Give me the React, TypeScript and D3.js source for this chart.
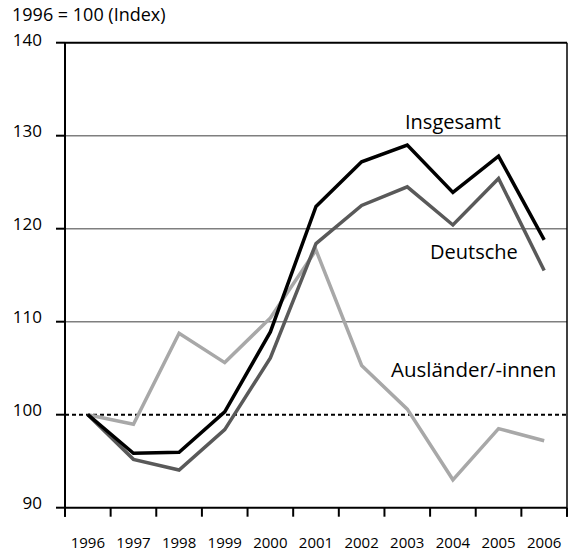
import React from "react";
import * as d3 from "d3";

const years = ["1996", "1997", "1998", "1999", "2000", "2001", "2002", "2003", "2004", "2005", "2006"];
const insgesamt = [100, 95.85, 95.95, 100.3, 108.9, 122.4, 127.2, 129.0, 123.9, 127.8, 118.8];
const deutsche = [100, 95.2, 94.05, 98.4, 106.1, 118.4, 122.5, 124.5, 120.4, 125.4, 115.5];
const auslaender = [100, 98.97, 108.75, 105.6, 110.4, 117.7, 105.3, 100.6, 93.0, 98.5, 97.2];
const yTicks = [90, 100, 110, 120, 130, 140];
const gridValues = [110, 120, 130];

const W = 572;
const H = 556;
const FONT = "'Open Sans', 'DejaVu Sans', sans-serif";

const App = () => {
  const x = d3.scaleBand().domain(years).range([65, 567]);
  const y = d3.scaleLinear().domain([90, 140]).range([507.7, 42.7]);
  const [x0, x1] = x.range();

  const line = d3
    .line<number>()
    .x((_, i) => x(years[i])! + x.bandwidth() / 2)
    .y((d) => y(d));

  const series = [
    { values: auslaender, color: "#a8a8a8" },
    { values: deutsche, color: "#595959" },
    { values: insgesamt, color: "#000" },
  ];

  const tickXs = years.map((yr) => x(yr)!).concat([x1]);

  return (
    <div style={{ position: "absolute", left: 0, top: 0 }}>
      <svg width={W} height={H} style={{ display: "block", background: "#fff" }} fontFamily={FONT}>
        {/* gridlines */}
        {gridValues.map((v) => (
          <line key={v} x1={x0} x2={x1} y1={y(v)} y2={y(v)} stroke="#7f7f7f" strokeWidth={1.4} />
        ))}
        <line x1={x0} x2={x1} y1={y(100)} y2={y(100)} stroke="#000" strokeWidth={2} strokeDasharray="4,3" />

        {/* frame */}
        <line x1={x0} x2={x1} y1={y(140)} y2={y(140)} stroke="#000" strokeWidth={2} />
        <line x1={x0} x2={x1} y1={y(90)} y2={y(90)} stroke="#000" strokeWidth={2} />
        <line x1={x0} x2={x0} y1={y(140)} y2={y(90) + 9} stroke="#000" strokeWidth={2} />
        <line x1={x1} x2={x1} y1={y(140)} y2={y(90) + 9} stroke="#000" strokeWidth={1.5} />

        {/* y ticks + labels */}
        {yTicks.map((v) => (
          <g key={v}>
            <line x1={x0 - 9} x2={x0} y1={y(v)} y2={y(v)} stroke="#000" strokeWidth={2} />
            <text x={42} y={y(v) + (v === 140 ? 3 : 1)} textAnchor="end" fontSize={17} fill="#000">
              {v}
            </text>
          </g>
        ))}

        {/* x ticks + labels */}
        {tickXs.map((tx, i) => (
          <line key={i} x1={tx} x2={tx} y1={y(90)} y2={y(90) + 9} stroke="#000" strokeWidth={2} />
        ))}
        {years.map((yr) => (
          <text key={yr} x={x(yr)! + x.bandwidth() / 2} y={548} textAnchor="middle" fontSize={15} fill="#000">
            {yr}
          </text>
        ))}

        {/* series */}
        {series.map((s, i) => (
          <path key={i} d={line(s.values)!} fill="none" stroke={s.color} strokeWidth={3.5} strokeLinejoin="miter" />
        ))}

        {/* labels */}
        <text x={12} y={21} fontSize={18} fill="#000">1996 = 100 (Index)</text>
        <text x={405} y={129} fontSize={20} fill="#000">Insgesamt</text>
        <text x={430} y={259} fontSize={20} fill="#000">Deutsche</text>
        <text x={391} y={377} fontSize={20.5} fill="#000">Ausländer/-innen</text>
      </svg>
    </div>
  );
};

export default App;
